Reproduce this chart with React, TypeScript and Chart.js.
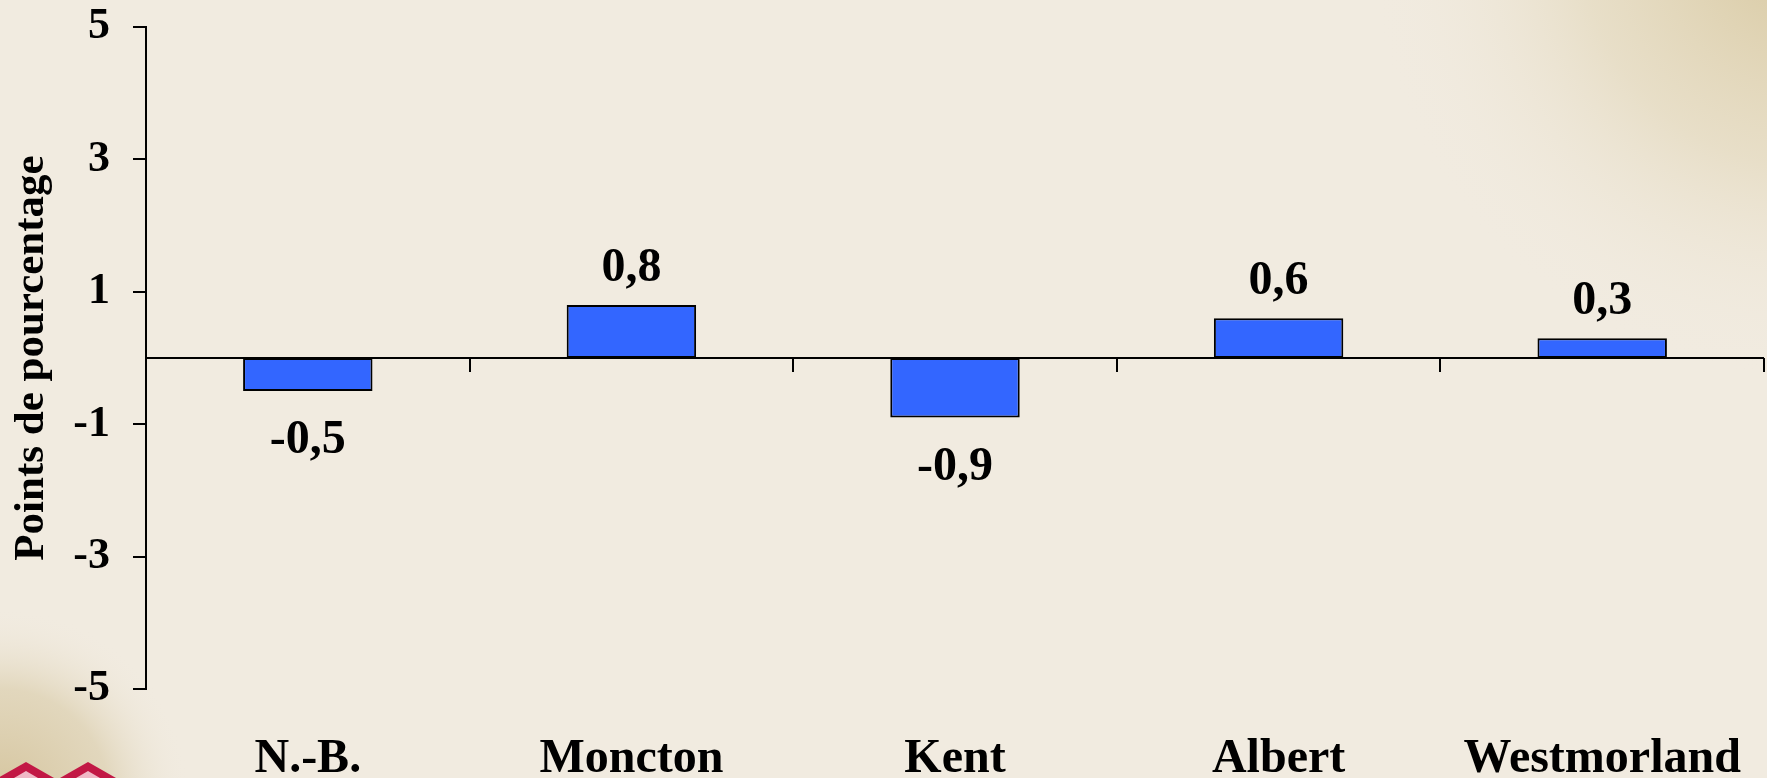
import React, { useEffect, useRef } from "react";
import { Chart, registerables } from "chart.js";

Chart.register(...registerables);

const categories: string[] = ["N.-B.", "Moncton", "Kent", "Albert", "Westmorland"];
const values: number[] = [-0.5, 0.8, -0.9, 0.6, 0.3];
const yTicks: number[] = [-5, -3, -1, 1, 3, 5];
const yTitle = "Points de pourcentage";

const FONT = "'Liberation Serif', 'Times New Roman', serif";

const backgroundPlugin = {
  id: "bgPaint",
  beforeDraw(chart: any) {
    const { ctx, width, height } = chart;
    ctx.save();
    ctx.fillStyle = "#F1EBE0";
    ctx.fillRect(0, 0, width, height);
    // top-right warm shading
    const g = ctx.createRadialGradient(width + 40, -60, 10, width + 40, -60, 440);
    g.addColorStop(0, "rgba(214,198,156,0.95)");
    g.addColorStop(0.5, "rgba(224,212,180,0.55)");
    g.addColorStop(1, "rgba(241,235,224,0)");
    ctx.fillStyle = g;
    ctx.fillRect(0, 0, width, height);
    // bottom-left soft shading
    const g2 = ctx.createRadialGradient(0, height + 20, 10, 0, height + 20, 190);
    g2.addColorStop(0, "rgba(214,198,160,1)");
    g2.addColorStop(0.55, "rgba(222,210,180,0.8)");
    g2.addColorStop(1, "rgba(241,235,224,0)");
    ctx.fillStyle = g2;
    ctx.fillRect(0, height - 220, 240, 220);
    // small red logo chevrons
    const drawChev = (cx: number) => {
      ctx.beginPath();
      ctx.moveTo(cx - 28, height);
      ctx.lineTo(cx, height - 16);
      ctx.lineTo(cx + 28, height);
      ctx.closePath();
      ctx.fillStyle = "#C21845";
      ctx.fill();
      ctx.beginPath();
      ctx.moveTo(cx - 12, height);
      ctx.lineTo(cx, height - 7);
      ctx.lineTo(cx + 12, height);
      ctx.closePath();
      ctx.fillStyle = "#F0B8C6";
      ctx.fill();
    };
    drawChev(26);
    drawChev(88);
    ctx.restore();
  },
};

const axisPlugin = {
  id: "zeroAxis",
  afterDatasetsDraw(chart: any) {
    const { ctx, chartArea, scales } = chart;
    const x = scales.x;
    const y = scales.y;
    const y0 = y.getPixelForValue(0);
    ctx.save();
    ctx.strokeStyle = "#000";
    ctx.lineWidth = 2;
    ctx.beginPath();
    ctx.moveTo(chartArea.left, y0);
    ctx.lineTo(chartArea.right, y0);
    ctx.stroke();
    const half = (x.getPixelForValue(1) - x.getPixelForValue(0)) / 2;
    for (let i = 0; i < categories.length; i++) {
      const px = Math.round(x.getPixelForValue(i) + half);
      ctx.beginPath();
      ctx.moveTo(px, y0);
      ctx.lineTo(px, y0 + 14);
      ctx.stroke();
    }
    ctx.restore();
  },
};

const labelPlugin = {
  id: "valueLabels",
  afterDatasetsDraw(chart: any) {
    const { ctx } = chart;
    const meta = chart.getDatasetMeta(0);
    ctx.save();
    ctx.font = `bold 48px ${FONT}`;
    ctx.fillStyle = "#000";
    ctx.textAlign = "center";
    ctx.textBaseline = "alphabetic";
    meta.data.forEach((el: any, i: number) => {
      const v = values[i];
      const txt = v.toFixed(1).replace(".", ",");
      if (v >= 0) {
        ctx.fillText(txt, el.x, el.y - 24);
      } else {
        ctx.fillText(txt, el.x, el.y + 62);
      }
    });
    ctx.restore();
  },
};

export default function App() {
  const ref = useRef<HTMLCanvasElement | null>(null);
  useEffect(() => {
    if (!ref.current) return;
    const chart = new Chart(ref.current, {
      type: "bar",
      data: {
        labels: categories,
        datasets: [
          {
            data: values,
            backgroundColor: "#3366FF",
            borderColor: "#000000",
            borderWidth: 2,
            barPercentage: 0.4,
            categoryPercentage: 1,
            borderSkipped: false,
          },
        ],
      },
      options: {
        animation: false,
        responsive: false,
        maintainAspectRatio: false,
        layout: { padding: { top: 0, right: 3, bottom: 0, left: 0 } },
        plugins: {
          legend: { display: false },
          tooltip: { enabled: false },
          title: { display: false },
        },
        scales: {
          x: {
            type: "category",
            grid: { display: false, drawTicks: false },
            border: { display: false },
            ticks: {
              color: "#000",
              font: { family: FONT, size: 48, weight: "bold" },
              padding: 42,
              maxRotation: 0,
              minRotation: 0,
              autoSkip: false,
            },
            afterFit: (s: any) => {
              s.height = 89;
              s.paddingLeft = 0;
              s.paddingRight = 0;
            },
          },
          y: {
            min: -5,
            max: 5,
            afterBuildTicks: (s: any) => {
              s.ticks = yTicks.map((v) => ({ value: v }));
            },
            grid: {
              display: true,
              drawOnChartArea: false,
              drawTicks: true,
              tickLength: 13,
              color: "#000",
              lineWidth: 2,
            },
            border: { display: true, color: "#000", width: 2 },
            ticks: {
              color: "#000",
              font: { family: FONT, size: 44, weight: "bold" },
              padding: 23,
            },
            title: {
              display: true,
              text: yTitle,
              color: "#000",
              font: { family: FONT, size: 43, weight: "bold" },
              padding: { top: 6, bottom: 0 },
            },
            afterFit: (s: any) => {
              s.width = 146;
              s.paddingTop = 27;
            },
          },
        },
      },
      plugins: [backgroundPlugin, axisPlugin, labelPlugin],
    });
    return () => chart.destroy();
  }, []);
  return (
    <div style={{ position: "fixed", left: 0, top: 0, width: 1767, height: 778 }}>
      <canvas ref={ref} width={1767} height={778} />
    </div>
  );
}
